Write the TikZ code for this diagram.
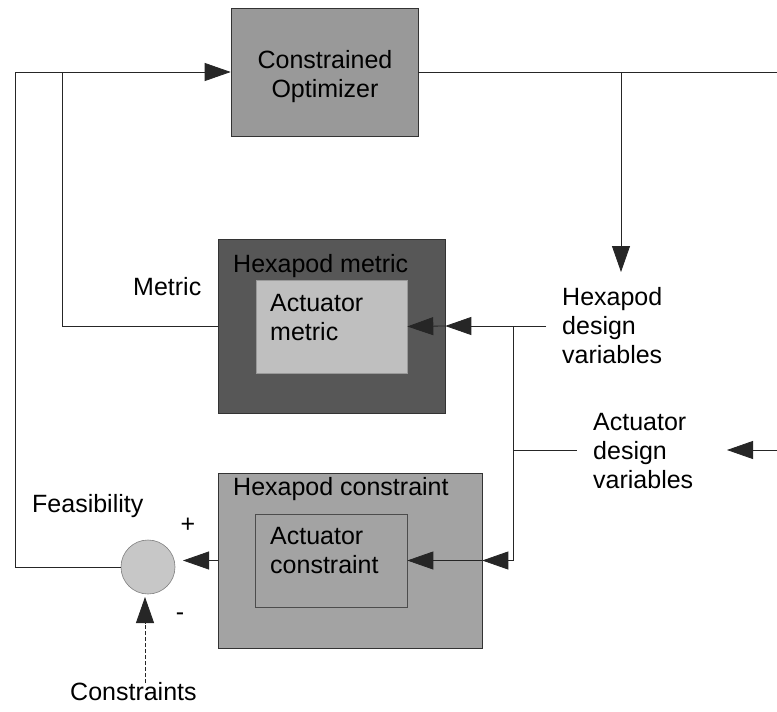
\documentclass[tikz,border=0pt]{standalone}
\usepackage{fontspec}
\setmainfont{Liberation Sans}
\usetikzlibrary{arrows.meta}
\begin{document}
\begin{tikzpicture}[x=1pt,y=-1pt,
  lbl/.style={inner sep=0pt, font=\fontsize{25}{29}\selectfont, align=left, anchor=base west},
  box/.style={draw=black!80, line width=0.6pt, inner sep=0pt},
  ln/.style={line width=0.8pt, draw=black!85},
  arr/.style={-{Triangle[length=26pt,width=18pt]}}]
\useasboundingbox[fill=white] (0,0) rectangle (777,712);
% boxes
\node[box, fill=black!40, minimum width=187pt, minimum height=128pt] (opt) at (324.5,72) {};
\node[box, fill=black!66, minimum width=227pt, minimum height=174pt] (hexm) at (331.5,326) {};
\node[box, draw=black!40, fill=black!25, minimum width=151pt, minimum height=93pt] (actm) at (331.5,326.5) {};
\node[box, fill=black!36, minimum width=264pt, minimum height=175pt] (hexc) at (350,560.5) {};
\node[box, draw=black!70, fill=black!36, minimum width=152pt, minimum height=93pt] (actc) at (331,560.5) {};
\node[box, draw=black!50, fill=black!22, circle, minimum size=54pt] (sum) at (148,567) {};
% labels (multi-line nodes: base = last line's baseline)
\node[lbl, align=center, anchor=base] (optlab) at (325,97) {Constrained\\Optimizer};
\node[lbl] (hexmlab) at (233,272) {Hexapod metric};
\node[lbl] (actmlab) at (270,340) {Actuator\\metric};
\node[lbl] (hexclab) at (233,495) {Hexapod constraint};
\node[lbl] (actclab) at (270,573) {Actuator\\constraint};
\node[lbl] (metric) at (133,295) {Metric};
\node[lbl] (hdv) at (562,363) {Hexapod\\design\\variables};
\node[lbl] (adv) at (593,488) {Actuator\\design\\variables};
\node[lbl] (feas) at (32,512) {Feasibility};
\node[lbl] (cons) at (70,700) {Constraints};
\node[lbl, anchor=center] (plus) at (188,525) {+};
\node[lbl, anchor=center] (minus) at (180,617) {-};
% coordinates
\coordinate (j1) at (62,72);
\coordinate (c1) at (15,72);
\coordinate (rEnd) at (777,72);
\coordinate (b1) at (621,72);
\coordinate (b1t) at (621,272);
\coordinate (h1) at (546,326);
\coordinate (v1) at (513,326);
\coordinate (v2) at (513,560.5);
\coordinate (a1) at (513,450);
\coordinate (a2) at (577,450);
\coordinate (a3) at (777,450);
\coordinate (a4) at (727,450);
\coordinate (s1) at (183,560.5);
\coordinate (k1) at (145,683);
\coordinate (k2) at (145,597);
% connectors
\draw[ln] (sum.west) -| (c1) -- (j1);
\draw[ln] (hexm.west) -| (j1);
\draw[ln,arr] (j1) -- (opt.west);
\draw[ln] (opt.east) -- (rEnd);
\draw[ln,arr] (b1) -- (b1t);
\draw[ln,arr] (h1) -- (hexm.east);
\draw[ln,arr] (hexm.east) -- (actm.east);
\draw[ln] (v1) -- (v2);
\draw[ln,arr] (v2) -- (hexc.east);
\draw[ln,arr] (hexc.east) -- (actc.east);
\draw[ln] (a1) -- (a2);
\draw[ln,arr] (a3) -- (a4);
\draw[ln,arr] (hexc.west) -- (s1);
\draw[ln,dash pattern=on 4pt off 2pt,arr] (k1) -- (k2);
\end{tikzpicture}
\end{document}
